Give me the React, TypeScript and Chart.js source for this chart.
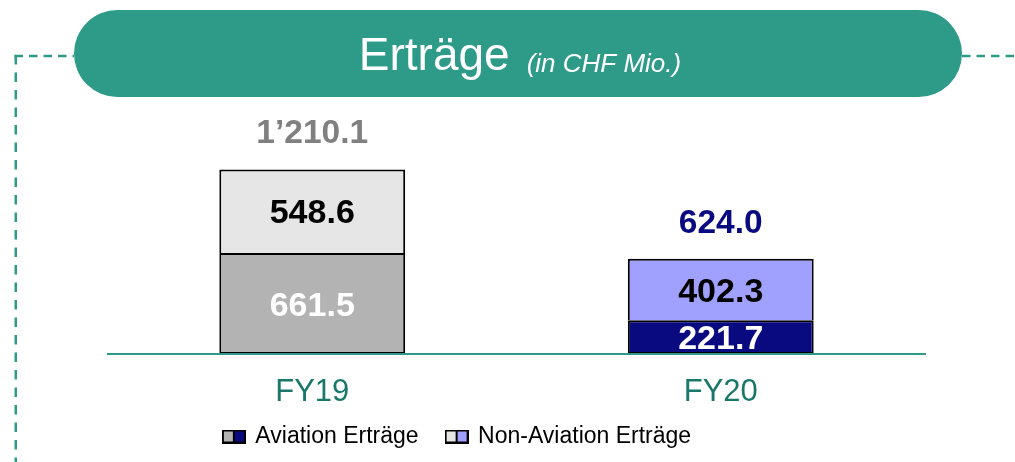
import React, { useEffect, useRef } from "react";
import { Chart, registerables } from "chart.js";

Chart.register(...registerables);

// ---- data ----
const categories = ["FY19", "FY20"];
const aviation = [661.5, 221.7];
const nonAviation = [548.6, 402.3];
const seriesNames = ["Aviation Erträge", "Non-Aviation Erträge"];
const titleMain = "Erträge";
const titleSub = "(in CHF Mio.)";
const yMax = 1600;

// ---- styles ----
const FONT = "'Liberation Sans', Arial, sans-serif";
const TEAL = "#2e9b89";
const TEAL_DARK = "#1a786a";
const aviationColors = ["#b3b3b3", "#0a0a80"];
const nonAviationColors = ["#e6e6e6", "#a0a0ff"];
const aviationLabelColors = ["#ffffff", "#ffffff"];
const nonAviationLabelColors = ["#000000", "#000000"];
const totalLabelColors = ["#808080", "#0a0a80"];

function fmt(v: number): string {
  const s = v.toFixed(1);
  const [int, dec] = s.split(".");
  const withSep = int.replace(/\B(?=(\d{3})+(?!\d))/g, "\u2019");
  return withSep + "." + dec;
}

function makeIcon(c1: string, c2: string): HTMLCanvasElement {
  const cv = document.createElement("canvas");
  cv.width = 24;
  cv.height = 14;
  const g = cv.getContext("2d")!;
  g.fillStyle = c1;
  g.fillRect(1, 1, 11, 12);
  g.fillStyle = c2;
  g.fillRect(12, 1, 11, 12);
  g.strokeStyle = "#000";
  g.lineWidth = 2;
  g.strokeRect(1, 1, 22, 12);
  g.beginPath();
  g.moveTo(12, 1);
  g.lineTo(12, 13);
  g.stroke();
  return cv;
}

const decorPlugin = {
  id: "decor",
  afterLayout(chart: any) {
    const lg = chart.legend;
    if (lg) {
      lg.left -= 59;
      lg.right -= 59;
      lg.top -= 9;
      lg.bottom -= 9;
    }
  },
  beforeDraw(chart: any) {
    const ctx = chart.ctx as CanvasRenderingContext2D;
    const W = chart.width;
    const H = chart.height;
    ctx.save();
    // dashed frame lines
    ctx.strokeStyle = TEAL;
    ctx.lineWidth = 2.5;
    ctx.setLineDash([8.5, 6]);
    ctx.beginPath();
    ctx.moveTo(14.5, 56);
    ctx.lineTo(74, 56);
    ctx.moveTo(962, 56);
    ctx.lineTo(W, 56);
    ctx.stroke();
    ctx.setLineDash([9.5, 8]);
    ctx.beginPath();
    ctx.moveTo(15.75, 55);
    ctx.lineTo(15.75, H);
    ctx.stroke();
    ctx.setLineDash([]);
    // banner pill
    const x0 = 74, x1 = 962, y0 = 10, y1 = 97;
    const r = (y1 - y0) / 2;
    ctx.fillStyle = TEAL;
    ctx.beginPath();
    ctx.moveTo(x0 + r, y0);
    ctx.lineTo(x1 - r, y0);
    ctx.arc(x1 - r, y0 + r, r, -Math.PI / 2, Math.PI / 2);
    ctx.lineTo(x0 + r, y1);
    ctx.arc(x0 + r, y0 + r, r, Math.PI / 2, (3 * Math.PI) / 2);
    ctx.closePath();
    ctx.fill();
    // title text
    ctx.fillStyle = "#ffffff";
    ctx.textBaseline = "alphabetic";
    ctx.textAlign = "left";
    ctx.font = `46px ${FONT}`;
    const w1 = ctx.measureText(titleMain).width;
    ctx.font = `italic 26px ${FONT}`;
    const w2 = ctx.measureText(titleSub).width;
    const gap = 17;
    const startX = 520 - (w1 + gap + w2) / 2;
    ctx.font = `46px ${FONT}`;
    ctx.fillText(titleMain, startX, 69.5);
    ctx.font = `italic 26px ${FONT}`;
    ctx.fillText(titleSub, startX + w1 + gap, 72);
    ctx.restore();
  },
};

const labelsPlugin = {
  id: "valueLabels",
  afterDatasetsDraw(chart: any) {
    const ctx = chart.ctx as CanvasRenderingContext2D;
    ctx.save();
    ctx.textAlign = "center";
    ctx.textBaseline = "alphabetic";
    const size = 34;
    ctx.font = `bold ${size}px ${FONT}`;
    const m0 = chart.getDatasetMeta(0);
    const m1 = chart.getDatasetMeta(1);
    const labelColorSets = [aviationLabelColors, nonAviationLabelColors];
    const dataSets = [aviation, nonAviation];
    [m0, m1].forEach((meta: any, di: number) => {
      meta.data.forEach((el: any, i: number) => {
        const cy = (el.y + el.base) / 2;
        ctx.fillStyle = labelColorSets[di][i];
        ctx.fillText(fmt(dataSets[di][i]), el.x, cy + size * 0.358);
      });
    });
    const tsize = 33.5;
    ctx.font = `bold ${tsize}px ${FONT}`;
    m1.data.forEach((el: any, i: number) => {
      const total = aviation[i] + nonAviation[i];
      ctx.fillStyle = totalLabelColors[i];
      const cy = el.y - 38;
      ctx.fillText(fmt(total), el.x, cy + tsize * 0.358);
    });
    ctx.restore();
  },
};

export default function App() {
  const ref = useRef<HTMLCanvasElement | null>(null);
  useEffect(() => {
    if (!ref.current) return;
    const icons = [
      makeIcon(aviationColors[0], aviationColors[1]),
      makeIcon(nonAviationColors[0], nonAviationColors[1]),
    ];
    const chart = new Chart(ref.current, {
      type: "bar",
      data: {
        labels: categories,
        datasets: [
          {
            label: seriesNames[0],
            data: aviation,
            backgroundColor: aviationColors,
            borderColor: "#000000",
            borderWidth: 2,
            borderSkipped: false,
          },
          {
            label: seriesNames[1],
            data: nonAviation,
            backgroundColor: nonAviationColors,
            borderColor: "#000000",
            borderWidth: 2,
            borderSkipped: "start",
          },
        ],
      },
      options: {
        responsive: false,
        animation: false,
        events: [],
        layout: { padding: { left: 108, right: 90, top: 110, bottom: -5 } },
        datasets: {
          bar: { barPercentage: 0.455, categoryPercentage: 1 },
        },
        scales: {
          x: {
            stacked: true,
            grid: { display: false, drawTicks: false },
            border: { display: true, color: TEAL, width: 2, z: 1 },
            ticks: {
              color: TEAL_DARK,
              font: { family: FONT, size: 31 },
              padding: 20,
            },
            afterFit: (scale: any) => {
              scale.height = 52;
            },
          },
          y: {
            stacked: true,
            display: false,
            min: 0,
            max: yMax,
          },
        },
        plugins: {
          title: { display: false },
          tooltip: { enabled: false },
          legend: {
            display: true,
            position: "bottom",
            labels: {
              usePointStyle: true,
              pointStyleWidth: 20,
              boxHeight: 14,
              padding: 28,
              color: "#000000",
              font: { family: FONT, size: 23 },
              generateLabels: () =>
                seriesNames.map((name, i) => ({
                  text: name,
                  pointStyle: icons[i],
                  datasetIndex: i,
                  hidden: false,
                  lineWidth: 0,
                  fillStyle: "rgba(0,0,0,0)",
                  strokeStyle: "rgba(0,0,0,0)",
                  fontColor: "#000000",
                })),
            },
          },
        },
      },
      plugins: [decorPlugin, labelsPlugin],
    } as any);
    return () => chart.destroy();
  }, []);

  return (
    <div style={{ position: "fixed", left: 0, top: 0, width: 1015, height: 462, background: "#fff" }}>
      <canvas ref={ref} width={1015} height={462} style={{ display: "block" }} />
    </div>
  );
}
